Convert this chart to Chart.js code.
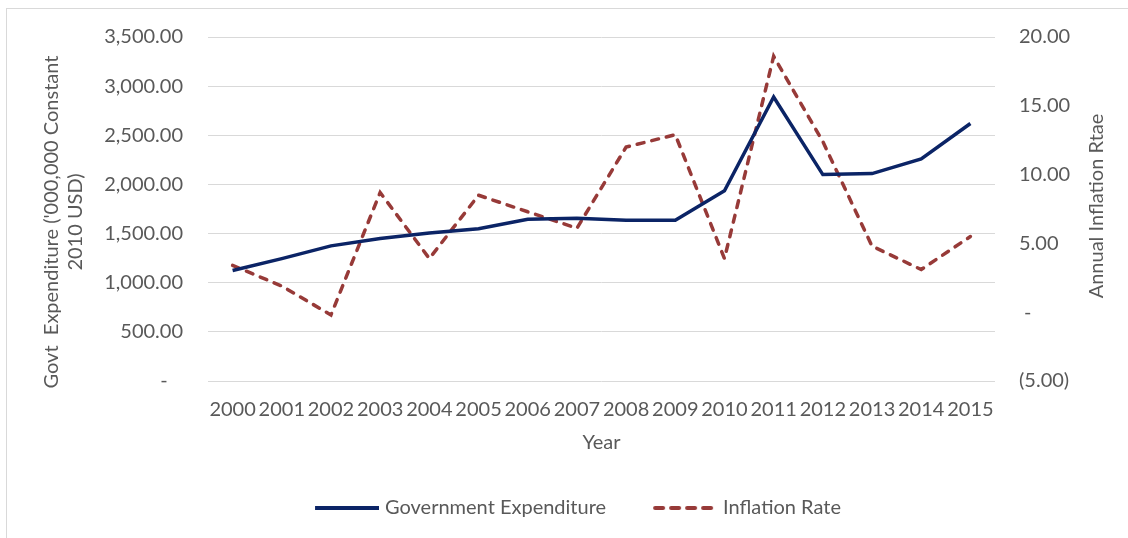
<!DOCTYPE html>
<html>
<head>
<meta charset="utf-8">
<script src="https://cdn.jsdelivr.net/npm/chart.js@4.4.1/dist/chart.umd.min.js"></script>
<style>
  html, body { margin: 0; padding: 0; background: #fff; }
  .frame { position: absolute; left: 6px; top: 8px; width: 1140px; height: 560px; border: 1px solid #d9d9d9; }
  .wrap { position: absolute; left: 0; top: 0; width: 1128px; height: 538px; }
</style>
</head>
<body>
<div class="frame"></div>
<div class="wrap"><canvas id="chart"></canvas></div>
<script>
/* ── Data ── */
const years      = ['2000','2001','2002','2003','2004','2005','2006','2007','2008','2009','2010','2011','2012','2013','2014','2015'];
const govExp     = [1125, 1245, 1375, 1450, 1505, 1550, 1645, 1655, 1635, 1635, 1935, 2890, 2100, 2110, 2260, 2620];
const inflation  = [3.4, 1.9, -0.2, 8.7, 3.9, 8.5, 7.3, 6.1, 12.0, 12.9, 3.9, 18.6, 12.4, 4.8, 3.1, 5.5];
const leftTicks  = [0, 3500, 500];   // min, max, step
const rightTicks = [-5, 20, 5];
const leftTitle  = ["Govt  Expenditure ('000,000 Constant", '2010 USD)'];
const rightTitle = 'Annual Inflation Rtae';

const txt  = '#595959';
const grid = '#d9d9d9';
const navy = '#0b2466';
const red  = '#973a38';
const fam  = "Lato, 'Open Sans', sans-serif";
const fs   = 20;

function fmtLeft(v) {
  if (v === 0) return '-   ';
  return v.toLocaleString('en-US', { minimumFractionDigits: 2, maximumFractionDigits: 2 });
}
function fmtRight(v) {
  if (v === 0) return ' -';
  const s = Math.abs(v).toFixed(2);
  return v < 0 ? '(' + s + ')' : s;
}

/* legend line samples (image wider than the box so it sits closer to the text) */
function sample(color, dash) {
  const c = document.createElement('canvas');
  c.width = 72; c.height = 8;
  const g = c.getContext('2d');
  g.strokeStyle = color;
  g.lineWidth = 4;
  g.lineCap = dash ? 'round' : 'butt';
  g.setLineDash(dash || []);
  g.beginPath();
  g.moveTo(dash ? 10 : 8, 4);
  g.lineTo(dash ? 70 : 72, 4);
  g.stroke();
  return c;
}

/* rotated axis titles, both reading bottom-to-top */
const titles = {
  id: 'titles',
  afterLayout(chart) {
    chart.legend.left += 12;
    chart.legend.right += 12;
  },
  afterDraw(chart) {
    const ctx = chart.ctx;
    ctx.save();
    ctx.fillStyle = txt;
    ctx.font = fs + 'px ' + fam;
    ctx.textAlign = 'center';
    ctx.textBaseline = 'middle';
    ctx.translate(52, 222);
    ctx.rotate(-Math.PI / 2);
    ctx.fillText(leftTitle[0], 0, 0);
    ctx.fillText(leftTitle[1], 0, 24);
    ctx.restore();
    ctx.save();
    ctx.fillStyle = txt;
    ctx.font = fs + 'px ' + fam;
    ctx.textAlign = 'center';
    ctx.textBaseline = 'middle';
    ctx.translate(1097, 206);
    ctx.rotate(-Math.PI / 2);
    ctx.fillText(rightTitle, 0, 0);
    ctx.restore();
  }
};

new Chart(document.getElementById('chart'), {
  type: 'line',
  data: {
    labels: years,
    datasets: [
      {
        label: 'Government Expenditure',
        data: govExp,
        yAxisID: 'y',
        borderColor: navy,
        backgroundColor: navy,
        borderWidth: 3.5,
        tension: 0,
        pointRadius: 0,
        pointStyle: sample(navy),
        fill: false,
      },
      {
        label: 'Inflation Rate',
        data: inflation,
        yAxisID: 'y1',
        borderColor: red,
        backgroundColor: red,
        borderWidth: 3.5,
        borderDash: [7, 8],
        borderCapStyle: 'round',
        tension: 0,
        pointRadius: 0,
        pointStyle: sample(red, [8, 8]),
        fill: false,
      }
    ]
  },
  options: {
    responsive: true, maintainAspectRatio: false, animation: false,
    layout: { padding: { top: 34, left: 0, right: 0, bottom: 10 } },
    plugins: {
      legend: {
        position: 'bottom',
        labels: {
          color: txt,
          font: { family: fam, size: fs },
          usePointStyle: true,
          pointStyleWidth: 64,
          boxHeight: 12,
          padding: 43,
        }
      },
      tooltip: { enabled: false }
    },
    scales: {
      x: {
        offset: true,
        grid: { display: false, drawTicks: false },
        border: { display: false },
        ticks: { color: txt, font: { family: fam, size: fs }, autoSkip: false, maxRotation: 0, padding: 17 },
        title: { display: true, text: 'Year', color: txt, font: { family: fam, size: fs }, padding: { top: 0, bottom: 0 } },
        afterFit: s => { s.height = 74; }
      },
      y: {
        position: 'left',
        min: leftTicks[0], max: leftTicks[1],
        grid: { color: grid, lineWidth: 1, drawTicks: false },
        border: { display: false },
        ticks: { stepSize: leftTicks[2], color: txt, font: { family: fam, size: fs }, padding: 25, callback: v => fmtLeft(v) },
        afterFit: s => { s.width = 208; }
      },
      y1: {
        position: 'right',
        min: rightTicks[0], max: rightTicks[1],
        grid: { display: false, drawTicks: false },
        border: { display: false },
        ticks: { stepSize: rightTicks[2], color: txt, font: { family: fam, size: fs }, padding: 24, callback: v => fmtRight(v) },
        afterFit: s => { s.width = 133; }
      }
    }
  },
  plugins: [titles]
});
</script>
</body>
</html>
